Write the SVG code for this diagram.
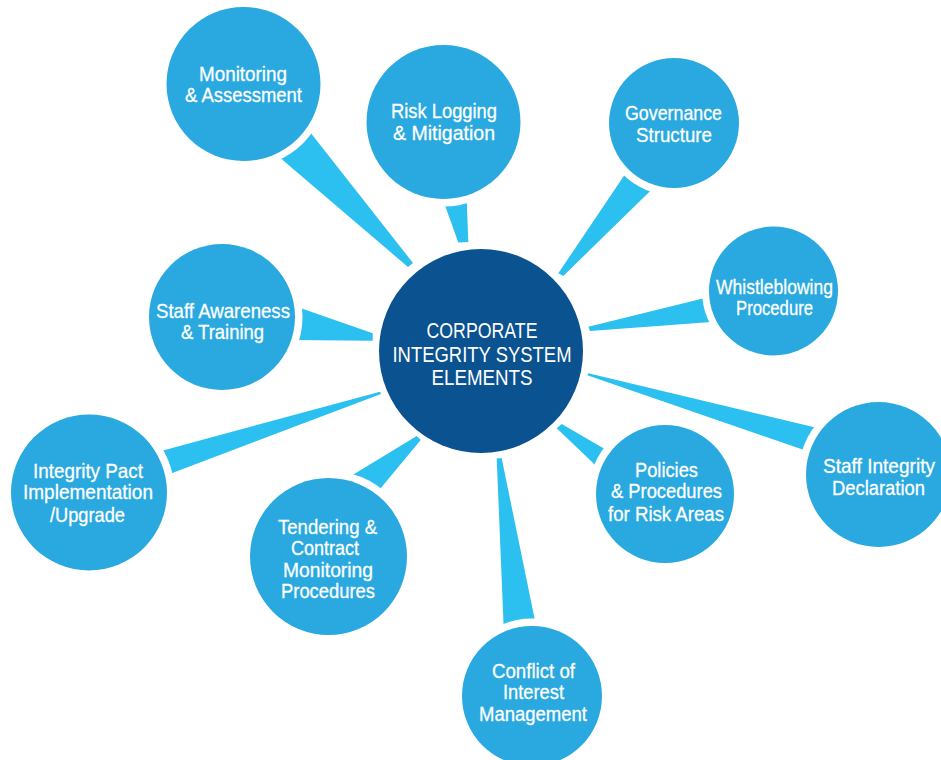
<svg xmlns="http://www.w3.org/2000/svg" width="941" height="760" viewBox="0 0 941 760">
  <style>
    .bg { fill: #ffffff; }
    .wedge { fill: #2bc0ef; }
    .halo { fill: #ffffff; }
    .node { fill: #29a9e0; }
    .hub { fill: #0b5290; }
    .lbl { font-family: "Liberation Sans", Arial, sans-serif; font-size: 21px; fill: #ffffff; stroke: #ffffff; stroke-width: 0.3; text-anchor: middle; }
    .hublbl { font-family: "Liberation Sans", Arial, sans-serif; font-size: 22px; fill: #ffffff; text-anchor: middle; }
  </style>
  <rect class="bg" x="0" y="0" width="941" height="760"/>

  <g id="connectors">
    <polygon class="wedge" points="272.7,151.4 304.3,124.8 413,263 408,267"/>
    <polygon class="wedge" points="442,197 466.5,194 468.3,242 458.3,242.5"/>
    <polygon class="wedge" points="629.7,167.3 657.4,184 563.3,276 558.3,273.3"/>
    <polygon class="wedge" points="713,296 718,321.5 590,331 588.3,326.7"/>
    <polygon class="wedge" points="291.7,305 372.7,333.3 372.7,340.7 290,340"/>
    <polygon class="wedge" points="153.8,453 380,391.7 381,394 163.8,476.3"/>
    <polygon class="wedge" points="342.3,481.3 416.7,436 420.7,440 374,496.3"/>
    <polygon class="wedge" points="496.7,458.3 501.7,458.3 536.5,628 504,635"/>
    <polygon class="wedge" points="561.7,424 613,453.8 602,471.5 556.7,428.3"/>
    <polygon class="wedge" points="588.3,373.3 822.8,429.2 811.2,452.5 587.3,375.3"/>
  </g>

  <g id="hub">
    <circle class="hub" cx="481" cy="351" r="102"/>
    <text class="hublbl" x="482" y="338" textLength="111" lengthAdjust="spacingAndGlyphs">CORPORATE</text>
    <text class="hublbl" x="482" y="362" textLength="179" lengthAdjust="spacingAndGlyphs">INTEGRITY SYSTEM</text>
    <text class="hublbl" x="482" y="385" textLength="101" lengthAdjust="spacingAndGlyphs">ELEMENTS</text>
  </g>

  <g id="monitoring-assessment">
    <circle class="halo" cx="243.5" cy="84" r="84"/>
    <circle class="node" cx="243.5" cy="84" r="77"/>
    <text class="lbl" x="243" y="81" textLength="88" lengthAdjust="spacingAndGlyphs">Monitoring</text>
    <text class="lbl" x="243.5" y="102" textLength="117" lengthAdjust="spacingAndGlyphs">&amp; Assessment</text>
  </g>

  <g id="risk-logging">
    <circle class="halo" cx="443.5" cy="122" r="84.5"/>
    <circle class="node" cx="443.5" cy="122" r="77"/>
    <text class="lbl" x="444" y="118" textLength="106" lengthAdjust="spacingAndGlyphs">Risk Logging</text>
    <text class="lbl" x="444" y="140" textLength="102" lengthAdjust="spacingAndGlyphs">&amp; Mitigation</text>
  </g>

  <g id="governance-structure">
    <circle class="halo" cx="674" cy="123" r="72.5"/>
    <circle class="node" cx="674" cy="123" r="65"/>
    <text class="lbl" x="673.5" y="120" textLength="97" lengthAdjust="spacingAndGlyphs">Governance</text>
    <text class="lbl" x="674" y="142" textLength="76" lengthAdjust="spacingAndGlyphs">Structure</text>
  </g>

  <g id="whistleblowing-procedure">
    <circle class="halo" cx="773.5" cy="291" r="71.5"/>
    <circle class="node" cx="773.5" cy="291" r="64.5"/>
    <text class="lbl" x="774.5" y="294" textLength="117" lengthAdjust="spacingAndGlyphs">Whistleblowing</text>
    <text class="lbl" x="774.5" y="315" textLength="77" lengthAdjust="spacingAndGlyphs">Procedure</text>
  </g>

  <g id="staff-awareness">
    <circle class="halo" cx="222" cy="317" r="80.5"/>
    <circle class="node" cx="222" cy="317" r="73"/>
    <text class="lbl" x="223" y="318" textLength="134" lengthAdjust="spacingAndGlyphs">Staff Awareness</text>
    <text class="lbl" x="222.5" y="339" textLength="83" lengthAdjust="spacingAndGlyphs">&amp; Training</text>
  </g>

  <g id="integrity-pact">
    <circle class="halo" cx="89" cy="492.5" r="85.5"/>
    <circle class="node" cx="89" cy="492.5" r="78"/>
    <text class="lbl" x="88" y="478" textLength="110" lengthAdjust="spacingAndGlyphs">Integrity Pact</text>
    <text class="lbl" x="88" y="499" textLength="130" lengthAdjust="spacingAndGlyphs">Implementation</text>
    <text class="lbl" x="87.5" y="522" textLength="75" lengthAdjust="spacingAndGlyphs">/Upgrade</text>
  </g>

  <g id="tendering-contract">
    <circle class="halo" cx="328.5" cy="556.5" r="86"/>
    <circle class="node" cx="328.5" cy="556.5" r="78.5"/>
    <text class="lbl" x="327.5" y="534" textLength="99" lengthAdjust="spacingAndGlyphs">Tendering &amp;</text>
    <text class="lbl" x="325" y="555" textLength="68" lengthAdjust="spacingAndGlyphs">Contract</text>
    <text class="lbl" x="328" y="577" textLength="90" lengthAdjust="spacingAndGlyphs">Monitoring</text>
    <text class="lbl" x="328" y="598" textLength="94" lengthAdjust="spacingAndGlyphs">Procedures</text>
  </g>

  <g id="conflict-of-interest">
    <circle class="halo" cx="532" cy="696" r="77.5"/>
    <circle class="node" cx="532" cy="696" r="70"/>
    <text class="lbl" x="533.5" y="678" textLength="83" lengthAdjust="spacingAndGlyphs">Conflict of</text>
    <text class="lbl" x="533.5" y="699" textLength="61" lengthAdjust="spacingAndGlyphs">Interest</text>
    <text class="lbl" x="533" y="721" textLength="108" lengthAdjust="spacingAndGlyphs">Management</text>
  </g>

  <g id="policies-procedures">
    <circle class="halo" cx="665" cy="494" r="76.5"/>
    <circle class="node" cx="665" cy="494" r="69"/>
    <text class="lbl" x="666.5" y="477" textLength="63" lengthAdjust="spacingAndGlyphs">Policies</text>
    <text class="lbl" x="666.5" y="498" textLength="111" lengthAdjust="spacingAndGlyphs">&amp; Procedures</text>
    <text class="lbl" x="666" y="521" textLength="116" lengthAdjust="spacingAndGlyphs">for Risk Areas</text>
  </g>

  <g id="staff-integrity-declaration">
    <circle class="halo" cx="878.5" cy="474.5" r="80"/>
    <circle class="node" cx="878.5" cy="474.5" r="72.5"/>
    <text class="lbl" x="879" y="473" textLength="112" lengthAdjust="spacingAndGlyphs">Staff Integrity</text>
    <text class="lbl" x="878.5" y="495" textLength="93" lengthAdjust="spacingAndGlyphs">Declaration</text>
  </g>
</svg>
